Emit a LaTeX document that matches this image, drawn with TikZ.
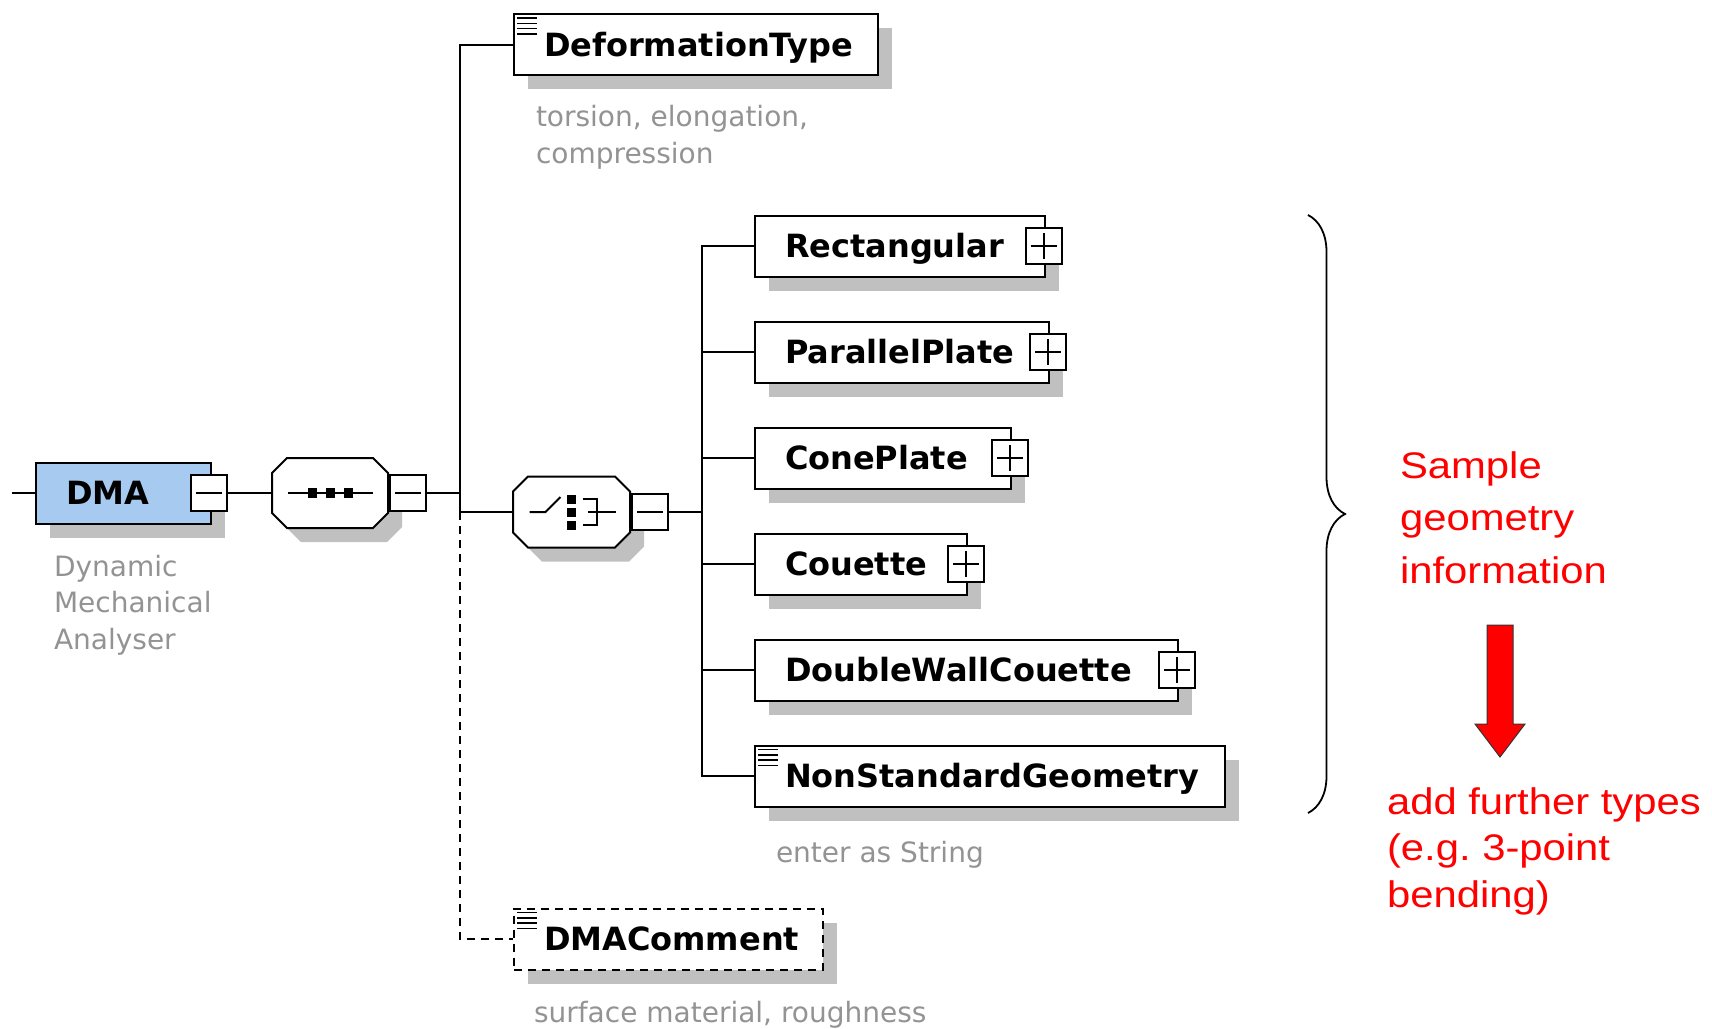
\documentclass[tikz,border=0pt]{standalone}
\usepackage{fontspec}
\setmainfont{DejaVu Sans}
\newfontfamily\noteFamily[FakeStretch=1.13]{Liberation Sans}
\usepackage{tikz}
\usetikzlibrary{positioning, calc, shadows, decorations.pathreplacing}
\usepackage{xcolor}
\definecolor{xsdBlue}{HTML}{A6CAF0}
\definecolor{xsdShadow}{HTML}{C0C0C0}
\definecolor{xsdGray}{HTML}{939393}
\definecolor{noteRed}{HTML}{FF0000}
\frenchspacing

\newcommand\nameFont{\fontsize{32}{38}\selectfont\bfseries}
\newcommand\descFont{\fontsize{28}{36.5}\selectfont}

% little "documentation" lines in the top left corner of an element
\newcommand\docIcon[1]{%
  \foreach \k in {0,...,3}
    \draw[line width=1.6pt] ([shift={(4,{5+5.3*\k})}]#1.north west) -- ++(20,0);}

% octagon of a compositor: centre x, centre y, half width, half height
\newcommand\octPath[4]{({#1-#3+15},{#2-#4}) -- ({#1+#3-15},{#2-#4})
  -- ({#1+#3},{#2-#4+15}) -- ({#1+#3},{#2+#4-15}) -- ({#1+#3-15},{#2+#4})
  -- ({#1-#3+15},{#2+#4}) -- ({#1-#3},{#2+#4-15}) -- ({#1-#3},{#2-#4+15}) -- cycle}

\tikzset{
  xsdshadow/.style={drop shadow={shadow xshift=14pt, shadow yshift=-14pt, fill=xsdShadow, opacity=1}},
  xsdbox/.style={draw, fill=white, anchor=west, minimum height=61pt,
    inner xsep=30pt, inner ysep=0pt, text width=#1, align=left,
    text height=27pt, text depth=4pt, font=\nameFont, xsdshadow},
  comparea/.style={minimum width=#1, inner sep=0pt},
  minusbox/.style={draw, fill=white, minimum size=36pt, inner sep=0pt,
    path picture={\draw ([xshift=5pt]path picture bounding box.west)
      -- ([xshift=-5pt]path picture bounding box.east);}},
  plusbox/.style={draw, fill=white, minimum size=36pt, inner sep=0pt,
    path picture={\draw ([xshift=5pt]path picture bounding box.west)
      -- ([xshift=-5pt]path picture bounding box.east);
      \draw ([yshift=-5pt]path picture bounding box.north)
      -- ([yshift=5pt]path picture bounding box.south);}},
  % base anchor = base line of the last line
  desc/.style={anchor=base west, align=left, inner sep=0pt, font=\descFont, text=xsdGray},
  note/.style={anchor=base west, align=left, inner sep=0pt, text=noteRed,
    font=\noteFamily\fontsize{37}{52.5}\selectfont},
}

\begin{document}
\begin{tikzpicture}[x=1pt, y=-1pt, line width=2pt]
  \useasboundingbox (0,0) rectangle (1712,1028);

  \coordinate (start) at (12,493);
  \coordinate (bus) at (460,0);
  \coordinate (cbus) at (702,0);

  % root element
  \node[xsdbox=115pt, fill=xsdBlue] (dma) at (35,493) {DMA};
  \node[minusbox] (dmaminus) at ([xshift=-3pt]dma.east) {};
  \node[desc] (dmadesc) at (53,649) {Dynamic\\Mechanical\\Analyser};

  % sequence
  \fill[xsdShadow, shift={(14,14)}] \octPath{330}{493}{58}{35};
  \draw[fill=white] \octPath{330}{493}{58}{35};
  \node[comparea=116pt, minimum height=70pt] (seq) at (330,493) {};
  \node[minusbox, anchor=west] (seqminus) at (seq.east) {};
  \draw ([xshift=-42pt]seq.center) -- ++(85,0);
  \foreach \dx in {-18,0,18}
    \fill ([shift={(\dx,0)}]seq.center) ++(-4.5,-5) rectangle ++(9,10);

  % deformation type
  \node[xsdbox=304pt] (deftype) at (513,44.5) {DeformationType};
  \docIcon{deftype}
  \node[desc] (deftypedesc) at (535,163) {torsion, elongation,\\compression};

  % choice of geometry
  \fill[xsdShadow, shift={(14,14)}] \octPath{571.5}{512}{58.5}{35.5};
  \draw[fill=white] \octPath{571.5}{512}{58.5}{35.5};
  \node[comparea=117pt, minimum height=71pt] (choice) at (571.5,512) {};
  \node[minusbox, anchor=west] (choiceminus) at (choice.east) {};
  \draw ([xshift=-42pt]choice.center) -- ++(16,0) -- ++(15,-15);
  \foreach \dy in {-13,0,13}
    \fill ([shift={(-0.5,\dy)}]choice.center) ++(-4.5,-4.5) rectangle ++(9,9);
  \draw ([shift={(11,-13)}]choice.center) -- ++(14,0) -- ++(0,26) -- ++(-14,0);
  \draw ([shift={(16,0)}]choice.center) -- ++(28,0);

  \foreach \name/\txt/\w/\y in {rect/Rectangular/230pt/246,
      para/ParallelPlate/234pt/352, cone/ConePlate/196pt/458,
      couette/Couette/152pt/564, dwc/DoubleWallCouette/363pt/670} {
    \node[xsdbox=\w] (\name) at (754,\y) {\txt};
    \node[plusbox] (pm-\name) at ([xshift=-2pt]\name.east) {};
    \draw (\name.west) -- (\name.west -| cbus);
  }
  \node[xsdbox=410pt] (nonstd) at (754,776) {NonStandardGeometry};
  \docIcon{nonstd}
  \node[desc] (nonstddesc) at (775,862) {enter as String};

  % optional comment
  \node[xsdbox=249pt, dash pattern=on 8pt off 6pt] (comment) at (513,939) {DMAComment};
  \docIcon{comment}
  \node[desc] (commentdesc) at (533,1022) {surface material, roughness};

  % connectors
  \draw (start) -- (dma.west);
  \draw (dmaminus.east) -- (seq.west);
  \draw (seqminus.east) -- (seqminus.east -| bus);
  \draw (deftype.west) -| (bus |- choice.west) -- (choice.west);
  \draw[dash pattern=on 8pt off 6pt] (bus |- choice.west) |- (comment.west);
  \draw (choiceminus.east) -- (choiceminus.east -| cbus);
  \draw (rect.west) -| (cbus |- nonstd.west) -- (nonstd.west);

  % notes
  \draw[line width=1.8pt, decorate, decoration={brace, amplitude=37pt}]
    (1308,215) -- (1308,813);
  \node[note] (sample) at (1399,583) {Sample\\geometry\\information};
  \draw[fill=noteRed, draw=black!80, line width=1pt] (1487,625) -- (1513,625)
    -- (1513,724) -- (1525,724) -- (1500,757) -- (1475,724) -- (1487,724) -- cycle;
  \node[note, font=\noteFamily\fontsize{37}{46.5}\selectfont] (further) at (1386,907)
    {add further types\\(e.g. 3-point\\bending)};
\end{tikzpicture}
\end{document}
